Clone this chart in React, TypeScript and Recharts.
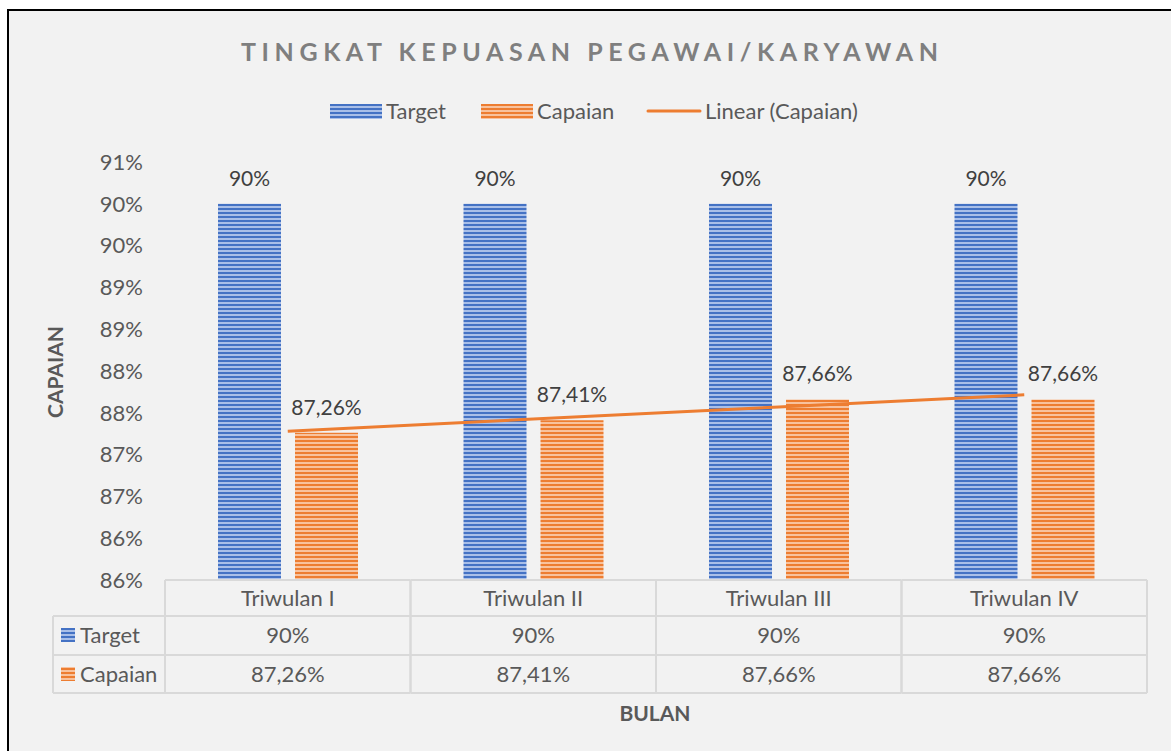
import React from 'react';
import { ComposedChart, Bar, Line, XAxis, YAxis, LabelList } from 'recharts';

const categories = ['Triwulan I', 'Triwulan II', 'Triwulan III', 'Triwulan IV'];
const targetValues = [90, 90, 90, 90];
const capaianValues = [87.26, 87.41, 87.66, 87.66];
const trendValues = [87.28, 87.425, 87.57, 87.715];
const targetLabels = ['90%', '90%', '90%', '90%'];
const capaianLabels = ['87,26%', '87,41%', '87,66%', '87,66%'];
const yTicks = [85.5, 86, 86.5, 87, 87.5, 88, 88.5, 89, 89.5, 90, 90.5];
const yTickLabels = ['86%', '86%', '87%', '87%', '88%', '88%', '89%', '89%', '90%', '90%', '91%'];
const seriesNames = ['Target', 'Capaian', 'Linear (Capaian)'];
const chartTitle = 'TINGKAT KEPUASAN PEGAWAI/KARYAWAN';
const yTitle = 'CAPAIAN';
const xTitle = 'BULAN';

const data = categories.map((c, i) => ({
  name: c,
  target: targetValues[i],
  capaian: capaianValues[i],
  trend: trendValues[i],
  targetLabel: targetLabels[i],
  capaianLabel: capaianLabels[i],
}));

const FONT = 'Lato, "Open Sans", sans-serif';
const TXT = '#595959';
const GRID = '#d9d9d9';
const FS = 22;

function TableTick(props: any) {
  const { x, y, payload, index } = props;
  const i = typeof index === 'number' ? index : payload.index;
  const half = payload && payload.offset ? payload.offset : 122.75;
  const l = x - half;
  const r = x + half;
  const y0 = y;
  const y1 = y + 36;
  const y2 = y + 75;
  const y3 = y + 113;
  const ln = { stroke: GRID, strokeWidth: 2 };
  const t = { fill: TXT, fontSize: FS, fontFamily: FONT, textAnchor: 'middle' as const };
  const lc = l - 112;
  return (
    <g>
      <line x1={l} x2={r} y1={y0} y2={y0} {...ln} />
      <line x1={l} x2={r} y1={y1} y2={y1} {...ln} />
      <line x1={l} x2={r} y1={y2} y2={y2} {...ln} />
      <line x1={l} x2={r} y1={y3} y2={y3} {...ln} />
      <line x1={l} x2={l} y1={y0} y2={y3} {...ln} />
      <line x1={r} x2={r} y1={y0} y2={y3} {...ln} />
      <text x={x} y={y0 + 26} {...t}>{payload.value}</text>
      <text x={x} y={y1 + 27} {...t}>{targetLabels[i]}</text>
      <text x={x} y={y2 + 27} {...t}>{capaianLabels[i]}</text>
      {i === 0 && (
        <g>
          <line x1={lc} x2={l} y1={y1} y2={y1} {...ln} />
          <line x1={lc} x2={l} y1={y2} y2={y2} {...ln} />
          <line x1={lc} x2={l} y1={y3} y2={y3} {...ln} />
          <line x1={lc} x2={lc} y1={y1} y2={y3} {...ln} />
          <rect x={lc + 8} y={y1 + 12} width={14} height={14} fill="url(#pBlue)" />
          <text x={lc + 27} y={y1 + 27} fill={TXT} fontSize={FS} fontFamily={FONT}>{seriesNames[0]}</text>
          <rect x={lc + 8} y={y2 + 12} width={14} height={14} fill="url(#pOrange)" />
          <text x={lc + 27} y={y2 + 27} fill={TXT} fontSize={FS} fontFamily={FONT}>{seriesNames[1]}</text>
        </g>
      )}
    </g>
  );
}

export default function App() {
  return (
    <div style={{ position: 'absolute', left: 0, top: 0, width: 1171, height: 751, background: '#ffffff', overflow: 'hidden' }}>
      <div style={{ position: 'absolute', left: 7, top: 9, right: 0, bottom: 0, background: '#f2f2f2', borderTop: '2px solid #000', borderLeft: '2px solid #000' }} />
      <div style={{ position: 'absolute', left: 0, top: 0 }}>
        <ComposedChart
          width={1171}
          height={751}
          data={data}
          margin={{ top: 162, right: 24, bottom: 51, left: 85 }}
          barGap={14}
        >
          <defs>
            <pattern id="pBlue" patternUnits="userSpaceOnUse" width="8" height="4">
              <rect width="8" height="4" fill="#a9bfe8" />
              <rect width="8" height="2" fill="#4472c4" />
            </pattern>
            <pattern id="pOrange" patternUnits="userSpaceOnUse" width="8" height="4">
              <rect width="8" height="4" fill="#f8c29d" />
              <rect width="8" height="2" fill="#ed7d31" />
            </pattern>
          </defs>
          <XAxis
            dataKey="name"
            axisLine={false}
            tickLine={false}
            tickSize={0}
            tickMargin={0}
            height={120}
            interval={0}
            tick={<TableTick />}
          />
          <YAxis
            type="number"
            domain={[85.5, 90.5]}
            ticks={yTicks}
            allowDataOverflow
            axisLine={false}
            tickLine={false}
            tickSize={0}
            tickMargin={22}
            width={80}
            tickFormatter={(v: number, i: number) => yTickLabels[i]}
            tick={{ fill: TXT, fontSize: FS, fontFamily: FONT }}
          />
          <Bar dataKey="target" name={seriesNames[0]} fill="url(#pBlue)" barSize={63} isAnimationActive={false}>
            <LabelList dataKey="targetLabel" position="top" offset={18} fill="#404040" fontSize={21} fontFamily={FONT} />
          </Bar>
          <Bar dataKey="capaian" name={seriesNames[1]} fill="url(#pOrange)" barSize={63} isAnimationActive={false}>
            <LabelList dataKey="capaianLabel" position="top" offset={18} fill="#404040" fontSize={21} fontFamily={FONT} />
          </Bar>
          <Line dataKey="trend" name={seriesNames[2]} stroke="#ed7d31" strokeWidth={3} dot={false} activeDot={false} isAnimationActive={false} />
        </ComposedChart>
      </div>
      <svg width={1171} height={751} style={{ position: 'absolute', left: 0, top: 0, pointerEvents: 'none' }}>
        <text x={241} y={61} textLength={697} lengthAdjust="spacing" fill="#7f7f7f" fontSize={25} fontWeight={700} fontFamily={FONT}>{chartTitle}</text>
        <rect x={330} y={104} width={52} height={15} fill="url(#pBlue)" />
        <text x={386} y={119} fill={TXT} fontSize={FS} fontFamily={FONT}>{seriesNames[0]}</text>
        <rect x={481} y={104} width={52} height={15} fill="url(#pOrange)" />
        <text x={537} y={119} fill={TXT} fontSize={FS} fontFamily={FONT}>{seriesNames[1]}</text>
        <line x1={648} x2={700} y1={111} y2={111} stroke="#ed7d31" strokeWidth={3} strokeLinecap="round" />
        <text x={705} y={119} fill={TXT} fontSize={FS} fontFamily={FONT}>{seriesNames[2]}</text>
        <text x={0} y={0} transform="translate(63 372) rotate(-90)" textAnchor="middle" fill={TXT} fontSize={21} fontWeight={700} fontFamily={FONT}>{yTitle}</text>
        <text x={655} y={721} textAnchor="middle" fill={TXT} fontSize={21} fontWeight={700} fontFamily={FONT}>{xTitle}</text>
      </svg>
    </div>
  );
}
